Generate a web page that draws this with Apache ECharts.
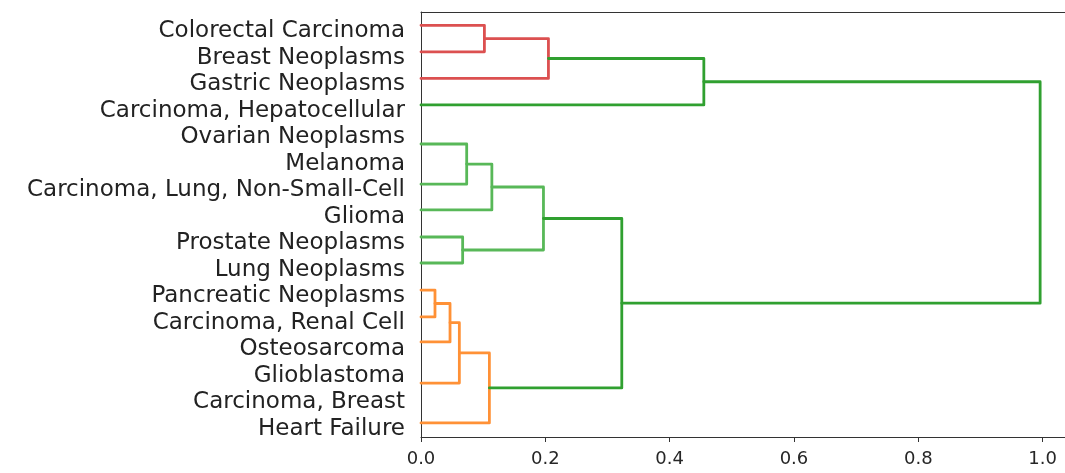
<!DOCTYPE html>
<html>
<head>
<meta charset="utf-8">
<script src="https://cdn.jsdelivr.net/npm/echarts@6/dist/echarts.min.js"></script>
<style>
html,body{margin:0;padding:0;background:#fff;}
#chart{width:1065px;height:473px;}
</style>
</head>
<body>
<div id="chart"></div>
<script>
// Leaf labels, top to bottom
const labels = [
  'Colorectal Carcinoma','Breast Neoplasms','Gastric Neoplasms','Carcinoma, Hepatocellular',
  'Ovarian Neoplasms','Melanoma','Carcinoma, Lung, Non-Small-Cell','Glioma',
  'Prostate Neoplasms','Lung Neoplasms','Pancreatic Neoplasms','Carcinoma, Renal Cell',
  'Osteosarcoma','Glioblastoma','Carcinoma, Breast','Heart Failure'
];
// Leaf positions of the dendrogram (in label-row units, 0 = top row)
const leafY = [0, 1, 2, 3, 4.47, 5.98, 6.95, 7.97, 8.95, 9.97, 10.98, 11.92, 13.47, 14.97];
// Merges: children ids (leaves 0..13, merged nodes 14..), merge distance, colour group
const mergeA = [0, 14, 15, 4, 17, 7, 18, 9, 21, 22, 23, 20, 16];
const mergeB = [1, 2, 3, 5, 6, 8, 19, 10, 11, 12, 13, 24, 25];
const mergeHeight = [0.102, 0.205, 0.455, 0.0735, 0.114, 0.067, 0.197, 0.0225, 0.0467, 0.0617, 0.110, 0.323, 0.996];
const mergeGroup = ['red','red','dark','light','light','light','light','orange','orange','orange','orange','dark','dark'];
const xTicks = [0, 0.2, 0.4, 0.6, 0.8, 1.0];

const groupColors = {red:'#dc5050', orange:'#ff9136', light:'#58b858', dark:'#30a030'};

const nodeY = leafY.slice();
const nodeX = leafY.map(() => 0);
const series = [];
mergeA.forEach((a, i) => {
  const b = mergeB[i];
  const h = mergeHeight[i];
  nodeY.push((nodeY[a] + nodeY[b]) / 2);
  nodeX.push(h);
  series.push({
    type: 'line',
    xAxisIndex: 0,
    yAxisIndex: 0,
    symbol: 'none',
    silent: true,
    animation: false,
    lineStyle: {color: groupColors[mergeGroup[i]], width: 2.8, cap: 'round', join: 'round'},
    data: [[nodeX[a], nodeY[a]], [h, nodeY[a]], [h, nodeY[b]], [nodeX[b], nodeY[b]]]
  });
});

const chart = echarts.init(document.getElementById('chart'));
chart.setOption({
  animation: false,
  backgroundColor: '#fff',
  grid: [
    {left: 421, top: 12, right: 0, bottom: 36, containLabel: false},
    {left: 421, top: 18, right: 0, bottom: 31, containLabel: false}
  ],
  xAxis: [{
    gridIndex: 0, type: 'value', min: 0, max: 1.036, position: 'bottom',
    axisLine: {show: true, onZero: false, lineStyle: {color: '#333', width: 1}},
    axisTick: {show: true, length: 5, customValues: xTicks, lineStyle: {color: '#333'}},
    axisLabel: {customValues: xTicks, formatter: v => v.toFixed(1), color: '#262626',
      fontFamily: 'DejaVu Sans', fontSize: 18, margin: 13},
    splitLine: {show: false}
  }, {
    gridIndex: 0, type: 'value', min: 0, max: 1.036, position: 'top',
    axisLine: {show: true, onZero: false, lineStyle: {color: '#333', width: 1}},
    axisTick: {show: false}, axisLabel: {show: false}, splitLine: {show: false}
  }, {
    gridIndex: 1, type: 'value', min: 0, max: 1, show: false
  }],
  yAxis: [{
    gridIndex: 0, type: 'value', min: -0.5, max: 15.5, inverse: true,
    axisLine: {show: true, onZero: false, lineStyle: {color: '#333', width: 1}},
    axisTick: {show: false}, axisLabel: {show: false}, splitLine: {show: false}
  }, {
    gridIndex: 1, type: 'category', data: labels, inverse: true, boundaryGap: true,
    axisLine: {show: false}, axisTick: {show: false},
    axisLabel: {color: '#222', fontFamily: 'DejaVu Sans', fontSize: 23, margin: 16, interval: 0},
    splitLine: {show: false}
  }],
  series: series
});
</script>
</body>
</html>
